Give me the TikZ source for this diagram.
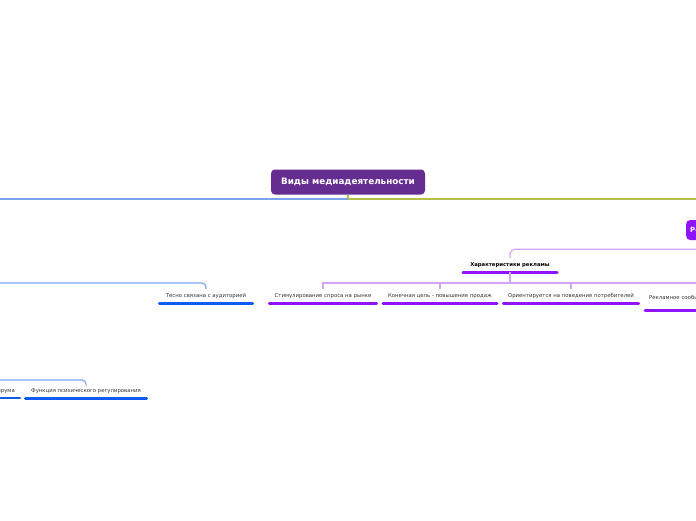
\documentclass[tikz,border=0pt]{standalone}
\usepackage{fontspec}
\setmainfont{DejaVu Sans}
\usetikzlibrary{positioning}
\definecolor{rootPurple}{HTML}{662D91}
\definecolor{adPurple}{HTML}{9013FE}
\definecolor{adLite}{HTML}{D3A3F7}
\definecolor{media}{HTML}{0D5BF0}
\definecolor{mediaLite}{HTML}{7AA3F2}
\definecolor{olive}{HTML}{B3C048}
\tikzset{
  central/.style={fill=rootPurple, rounded corners=4pt, minimum width=154pt,
                  minimum height=25pt, font=\fontsize{8.8}{10}\selectfont\bfseries\color{white}},
  mainbox/.style={fill=adPurple, rounded corners=4pt, minimum height=20pt, inner xsep=4pt,
                  font=\fontsize{7}{8}\selectfont\bfseries\color{white}},
  topic/.style={inner xsep=0pt, inner ysep=0pt, minimum height=14pt, text depth=0.6pt,
                font=\fontsize{5.35}{6}\selectfont\color{black!80}},
  bar/.style={line width=2.6pt, line cap=round, draw=#1},
  medialink/.style={draw=mediaLite, line width=1.1pt, rounded corners=4pt},
  adlink/.style={draw=adLite, line width=1.1pt},
  olivelink/.style={draw=olive, line width=1.1pt}
}

\begin{document}
\begin{tikzpicture}[x=1pt,y=-1pt]
  \fill[white] (0,0) rectangle (696,520);
  \useasboundingbox (0,0) rectangle (696,520);

  % central topic
  \node[central] (root) at (348,182) {Виды медиадеятельности};
  \coordinate (split) at (348,199);
  \coordinate (leftMain) at (-20,199);
  \coordinate (rightMain) at (720,199);
  \draw[olivelink] (root.south) -- (split) -- (rightMain);
  \draw[medialink] (split) -- (leftMain);

  % advertising branch
  \node[mainbox, anchor=west] (reklama) at (686,230) {Реклама};
  \node[topic, minimum width=94pt, font=\fontsize{5.3}{6}\selectfont\bfseries] (harakt) at (510,265) {Характеристики рекламы};
  \draw[adlink, rounded corners=5pt] (reklama.south) -- ++(0,9) -| (harakt.north);
  \draw[bar=adPurple] (harakt.south west) -- (harakt.south east);

  \node[topic, minimum width=107pt] (stim) at (323,296) {Стимулирование спроса на рынке};
  \node[topic, minimum width=114pt] (konec) at (440,296) {Конечная цель - повышение продаж};
  \node[topic, minimum width=135pt] (orient) at (571,296) {Ориентируется на поведение потребителей};
  \node[topic, anchor=base west, inner xsep=4pt, minimum height=0pt, text depth=11pt,
        text width=110pt, align=left] (soob) at (645,299) {Рекламное сообщение};

  \coordinate (adHub) at (510,283);
  \draw[adlink] (harakt.south) -- (adHub);
  \foreach \t in {stim,konec,orient,soob}
    \draw[adlink] (adHub) -| (\t.north);
  \foreach \t in {stim,konec,orient,soob}
    \draw[bar=adPurple] (\t.south west) -- (\t.south east);

  % media branch
  \coordinate (mediaHubA) at (-20,283);
  \coordinate (mediaHubB) at (-20,380);
  \node[topic, minimum width=93pt] (tesno) at (206,296) {Тесно связана с аудиторией};
  \draw[medialink] (mediaHubA) -| (tesno.north);
  \draw[bar=media] (tesno.south west) -- (tesno.south east);

  \node[topic, minimum width=121pt] (funk) at (86,391) {Функция психического регулирования};
  \node[topic, anchor=south east, inner xsep=5pt] (erum) at (20,398) {ерума};
  \draw[medialink] (mediaHubB) -| (funk.north);
  \draw[bar=media] (funk.south west) -- (funk.south east);
  \draw[bar=media] (erum.south west) -- (erum.south east);
\end{tikzpicture}
\end{document}
